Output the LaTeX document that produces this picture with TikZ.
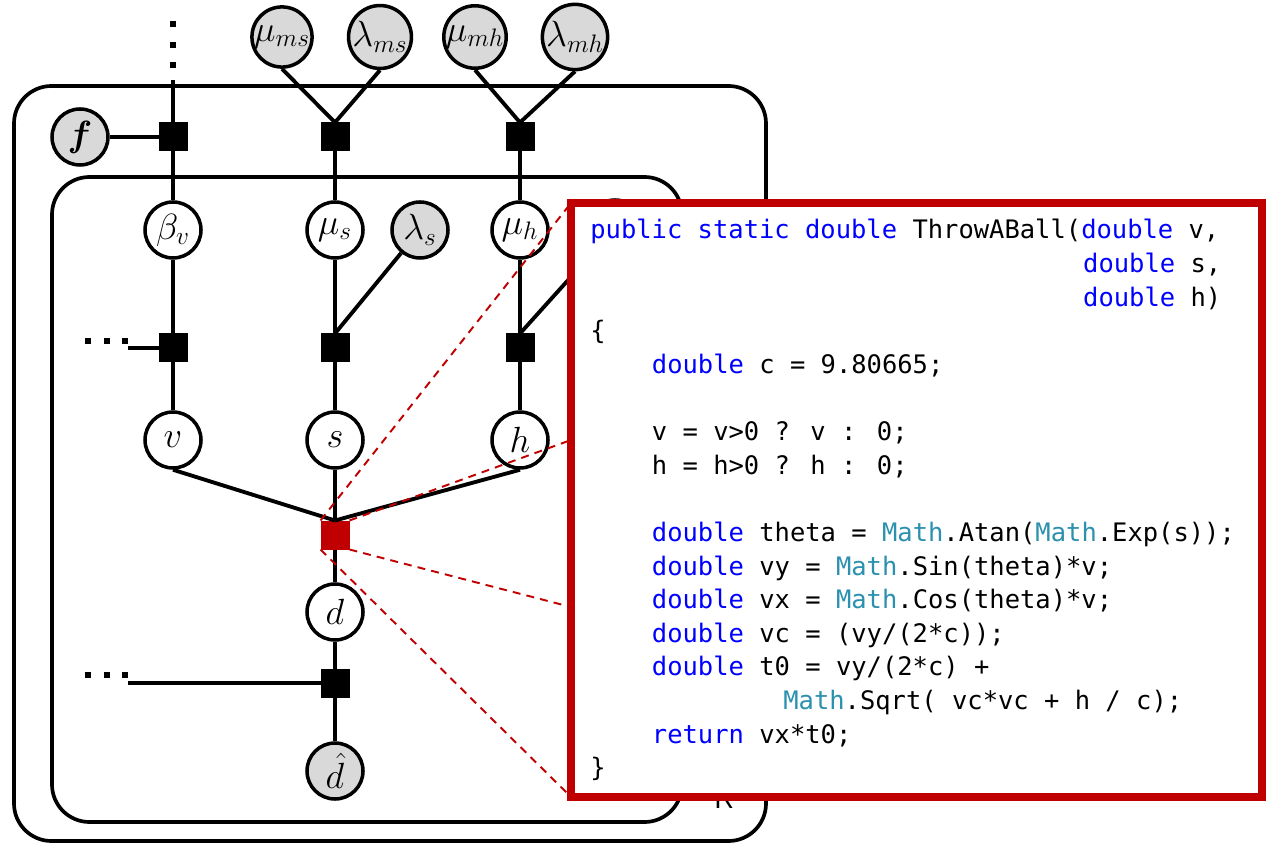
\documentclass[tikz,border=0pt]{standalone}
\usepackage{amsmath}
\usepackage{amssymb}
\usepackage{bm}
\usepackage{fontspec}
\usepackage{xcolor}
\usetikzlibrary{arrows}
\newfontfamily\codefont{DejaVu Sans Mono}
\definecolor{plotred}{RGB}{192,0,0}
\definecolor{kwblue}{RGB}{0,0,255}
\definecolor{tyteal}{RGB}{43,145,175}
\definecolor{obsgray}{RGB}{217,217,217}
\newcommand{\kwd}[1]{\textcolor{kwblue}{#1}}
\newcommand{\typ}[1]{\textcolor{tyteal}{#1}}

\begin{document}
\begin{tikzpicture}[scale=1,
  var/.style={circle,draw,line width=2pt,fill=white,minimum size=1.12cm,inner sep=0pt,font=\huge},
  obs/.style={var,fill=obsgray},
  fac/.style={rectangle,fill=black,minimum size=0.58cm,inner sep=0pt,outer sep=0pt},
  link/.style={line width=2.2pt},
  plate/.style={line width=2.1pt,rounded corners=0.75cm},
  zoomline/.style={plotred,line width=1.1pt,dash pattern=on 4.5pt off 3.5pt},
  codebox/.style={draw=plotred,line width=4.3pt,fill=white,minimum width=13.82cm,minimum height=11.88cm,inner sep=0pt,outer sep=0pt},
  codeline/.style={anchor=base west,inner sep=0pt,font=\codefont\fontsize{14.5}{19}\selectfont}]
\useasboundingbox (0,0) rectangle (25.32,16.88);
% plates
\draw[plate] (0.28,0.06) rectangle (15.32,15.16);
\draw[plate] (1.04,0.44) rectangle (13.64,13.34);
\node[font=\sffamily\LARGE,anchor=base,inner sep=0pt] (platek) at (14.48,0.72) {K};
% top row
\node[obs] (mums) at (5.64,16.14) {$\mu_{ms}$};
\node[obs] (lamms) at (7.6,16.14) {$\lambda_{ms}$};
\node[obs] (mumh) at (9.5,16.14) {$\mu_{mh}$};
\node[obs] (lammh) at (11.5,16.14) {$\lambda_{mh}$};
\node[obs] (f) at (1.6,14.14) {$\bm{f}$};
\node[fac] (facbeta) at (3.46,14.14) {};
\node[fac] (facms) at (6.7,14.14) {};
\node[fac] (facmh) at (10.4,14.14) {};
\coordinate (betatop) at (3.46,15.28);
\foreach \y in {16.40,15.98,15.58}
  \fill (3.46,\y) ++(-0.06,-0.06) rectangle ++(0.12,0.12);
% parameters
\node[var] (betav) at (3.46,12.28) {$\beta_v$};
\node[var] (mus) at (6.7,12.28) {$\mu_s$};
\node[obs] (lams) at (8.4,12.28) {$\lambda_s$};
\node[var] (muh) at (10.4,12.28) {$\mu_h$};
\node[obs] (lamh) at (12.3,12.32) {};
\node[fac] (facv) at (3.46,9.92) {};
\node[fac] (facs) at (6.7,9.92) {};
\node[fac] (fach) at (10.4,9.92) {};
\coordinate (vleft) at (2.56,9.92);
\foreach \x in {1.76,2.14,2.50}
  \fill (\x,10.06) ++(-0.06,-0.06) rectangle ++(0.12,0.12);
% inputs and output
\node[var] (v) at (3.46,8.08) {$v$};
\node[var] (s) at (6.7,8.08) {$s$};
\node[var] (h) at (10.4,8.08) {$h$};
\node[fac,fill=plotred] (redfac) at (6.7,6.18) {};
\node[var] (d) at (6.7,4.64) {$d$};
\node[fac] (facd) at (6.7,3.22) {};
\node[obs] (dhat) at (6.7,1.46) {$\hat{d}$};
\coordinate (dleft) at (2.56,3.22);
\foreach \x in {1.76,2.14,2.50}
  \fill (\x,3.38) ++(-0.06,-0.06) rectangle ++(0.12,0.12);
% edges
\draw[link] (betatop) -- (facbeta) -- (betav) -- (facv) -- (v);
\draw[link] (f) -- (facbeta);
\draw[link] (vleft) -- (facv);
\draw[link] (mums.south) -- (facms.north);
\draw[link] (lamms.south) -- (facms.north);
\draw[link] (facms) -- (mus) -- (facs) -- (s);
\draw[link] (lams) -- (facs.north);
\draw[link] (mumh.south) -- (facmh.north);
\draw[link] (lammh.south) -- (facmh.north);
\draw[link] (facmh) -- (muh) -- (fach) -- (h);
\draw[link] (lamh) -- (fach.north);
\draw[link] (v.south) -- (redfac.north);
\draw[link] (s) -- (redfac.north);
\draw[link] (h.south) -- (redfac.north);
\draw[link] (redfac) -- (d) -- (facd) -- (dhat);
\draw[link] (dleft) -- (facd);
% code of the red factor
\node[codebox] (code) at (18.33,6.88) {};
\coordinate (zoomh) at (code.west |- h);
\coordinate (zoomd) at (11.42,4.74);
\draw[zoomline] (redfac.north west) -- (code.north west);
\draw[zoomline] (redfac.north east) -- (zoomh);
\draw[zoomline] (redfac.south east) -- (zoomd);
\draw[zoomline] (redfac.south west) -- (code.south west);
\node[codeline] (line1) at (11.8,12.10) {\kwd{public static double} ThrowABall(\kwd{double} v,};
\node[codeline] (line2) at (21.656,11.428) {\kwd{double} s,};
\node[codeline] (line3) at (21.656,10.756) {\kwd{double} h)};
\node[codeline] (line4) at (11.8,10.084) {\{};
\node[codeline] (line5) at (13.032,9.412) {\kwd{double} c = 9.80665;};
\node[codeline] (line7) at (13.032,8.068) {v = v>0 ? v : 0;};
\node[codeline] (line8) at (13.032,7.396) {h = h>0 ? h : 0;};
\node[codeline] (line10) at (13.032,6.052) {\kwd{double} theta = \typ{Math}.Atan(\typ{Math}.Exp(s));};
\node[codeline] (line11) at (13.032,5.380) {\kwd{double} vy = \typ{Math}.Sin(theta)*v;};
\node[codeline] (line12) at (13.032,4.708) {\kwd{double} vx = \typ{Math}.Cos(theta)*v;};
\node[codeline] (line13) at (13.032,4.036) {\kwd{double} vc = (vy/(2*c));};
\node[codeline] (line14) at (13.032,3.364) {\kwd{double} t0 = vy/(2*c) +};
\node[codeline] (line15) at (15.66,2.692) {\typ{Math}.Sqrt( vc*vc + h / c);};
\node[codeline] (line16) at (13.032,2.020) {\kwd{return} vx*t0;};
\node[codeline] (line17) at (11.8,1.348) {\}};
\end{tikzpicture}
\end{document}
